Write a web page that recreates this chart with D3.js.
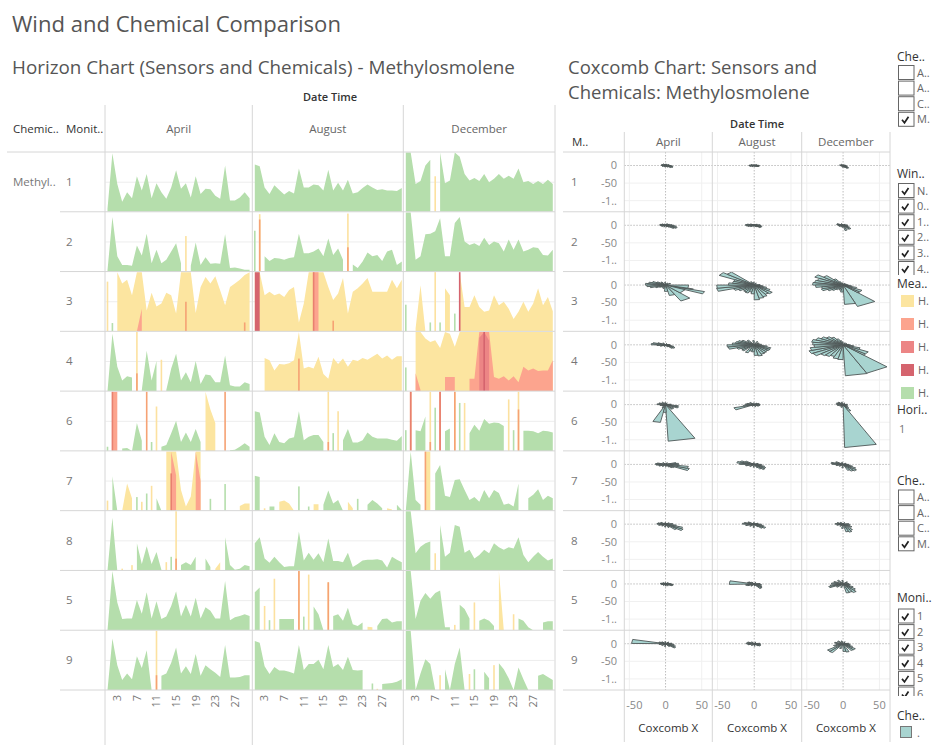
<!DOCTYPE html>
<html><head><meta charset="utf-8">
<script src="https://cdn.jsdelivr.net/npm/d3@7"></script>
<style>
body{margin:0;background:#fff;}
svg{display:block;font-family:"Open Sans",sans-serif;}
</style></head><body>
<svg id="c" width="940" height="752"></svg>
<script>
// ---------------- DATA ----------------
const months = ["April", "August", "December"];
const daysInMonth = [30, 31, 31];
const monitors = ["1", "2", "3", "4", "6", "7", "8", "5", "9"];
const chemical = "Methyl..";
const dayTicks = [3, 7, 11, 15, 19, 23, 27];
const coxXTicks = [-50, 0, 50];
const coxYTicks = [0, -50, -100];
const coxYTickLabels = ["0", "-50", "-1.."];
const bandLabels = ["H.", "H.", "H.", "H.", "H."];

// horizon layers: per monitor [April, August, December]; dense day arrays or [day, value] pairs
const green1 = [
  [0.05,0.99,0.47,0.17,0.33,0.23,0.6,0.36,0.64,0.23,0.48,0.33,0.22,0.41,0.7,0.39,0.48,0.24,0.6,0.3,0.39,0.38,0.27,0.22,0.78,0.19,0.19,0.24,0.33,0.23],
  [0.80,0.77,0.41,0.30,0.45,0.37,0.29,0.35,0.31,0.73,0.41,0.41,0.46,0.45,0.36,0.71,0.36,0.49,0.36,0.54,0.31,0.33,0.40,0.46,0.41,0.37,0.38,0.36,0.36,0.35,0.40],
  [1.0,1.0,0.47,0.52,0.78,0.88,null,1.0,0.48,0.53,1.0,0.93,0.64,0.53,0.57,0.52,0.64,0.5,0.56,0.64,0.56,0.61,0.56,0.73,0.5,0.52,0.47,0.52,0.47,0.54,0.47]];
const green2 = [
  [0.02,0.92,0.26,0.11,0.11,0.1,0.44,0.27,0.64,0.14,0.37,0.14,0.2,0.34,0.48,0.14,null,0.1,0.49,0.11,0.24,0.13,0.14,0.13,0.63,0.06,0.07,0.05,0.03,0.03],
  [0.69,null,0.26,0.18,0.23,0.22,0.2,0.23,0.24,0.64,0.31,0.31,0.34,0.39,0.26,0.56,0.28,0.39,0.2,null,0.12,0.06,0.17,0.32,0.26,0.28,0.18,0.34,0.37,0.11,0.17],
  [1.0,1.0,0.2,0.26,0.63,0.64,0.68,0.9,0.26,0.26,0.82,0.92,0.51,0.45,0.48,0.43,0.57,0.45,0.51,0.48,0.34,0.54,0.37,0.54,0.34,0.37,0.41,0.4,0.28,0.27,0.37]];
const green3 = [[[2,0.14]], [], [[1,0.45],[6,0.15],[8,0.15],[11,0.3]]];
const green4 = [
  [0.0,0.97,0.41,0.18,0.25,0.23,null,0.02,0.68,0.18,0.51,null,0.02,0.38,0.63,0.18,0.32,0.15,0.51,0.12,0.28,0.27,0.15,0.15,0.6,0.1,0.08,0.08,0.15,0.12],
  [], [[1,0.4]]];
const green6 = [
  [[1,0.07],[4,0.04],[5,0.05],[6,0.0],[7,0.47],[8,0.17],[10,0.15],[12,0.07],[13,0.1],[14,0.3],[15,0.51],[16,0.15],[17,0.31],[18,0.15],[19,0.37],[20,0.15],[26,0.01],[27,0.02],[28,0.07],[29,0.13],[30,0.07]],
  [0.67,0.65,0.24,0.1,0.3,0.15,0.13,0.21,0.23,0.67,0.18,0.24,0.27,0.27,0.15,null,0.3,null,0.18,0.37,0.14,0.14,0.18,0.31,0.24,0.21,0.21,0.21,0.19,0.17,0.25],
  [0.35,null,0.35,0.33,0.58,null,0.73,null,0.33,0.38,null,0.81,null,0.3,0.44,0.34,0.54,0.46,0.48,0.47,0.42,null,0.35,null,0.34,0.34,0.33,0.3,0.34,0.33,0.31]];
const green7 = [
  [[2,0.58],[3,0.0],[7,0.23],[9,0.29],[11,0.21],[12,0.0],[22,0.2],[25,0.45]],
  [0.59,0.57,null,0.07,0.07,null,null,null,null,0.41,null,0.07,null,null,0.1,0.34,0.12,0.18,0.0,null,null,0.2,null,0.1,0.18,0.12,0.04,null,null,0.1,0.01],
  [0.0,1.0,0.18,0.1,null,null,0.63,0.77,0.25,0.23,0.52,0.53,0.35,0.18,0.23,0.15,0.35,0.21,0.35,0.3,0.1,0.12,0.07,0.46,null,0.21,0.27,0.36,0.18,0.25,0.21]];
const green8 = [
  [[1,0.0],[2,0.89],[3,0.0],[7,0.46],[8,0.11],[9,0.41],[10,0.11],[11,0.31],[12,0.01],[14,0.23],[16,0.09],[17,0.14],[18,0.09],[19,0.23],[21,0.2],[22,0.06],[25,0.56],[26,0.09],[27,0.01],[28,0.03],[29,0.09],[30,0.07]],
  [0.46,0.56,0.2,0.13,0.23,0.14,0.06,0.07,0.07,0.66,0.17,0.3,0.18,0.29,0.14,0.54,0.16,0.16,0.14,0.3,0.06,0.11,0.17,0.18,0.18,0.19,0.17,0.05,0.23,0.18,0.14],
  [1.0,1.0,0.29,0.4,0.46,0.49,null,0.77,0.23,0.3,0.77,0.74,0.3,0.35,0.2,0.26,0.35,0.29,0.46,0.39,0.35,0.39,0.37,0.56,0.26,0.14,0.23,0.31,0.23,0.17,0.2]];
const green5 = [
  [0.0,1.0,0.47,0.19,0.2,0.2,0.51,0.28,0.64,0.2,0.49,0.19,0.23,0.41,0.66,0.23,0.43,0.23,0.55,0.2,0.39,0.33,0.2,0.2,0.83,0.17,0.22,0.24,0.27,0.24],
  [0.64,0.72,null,0.17,null,0.19,0.19,0.19,0.19,null,0.23,null,0.4,0.27,0.0,null,0.24,0.27,0.16,0.38,0.1,0.07,0.13,null,null,0.07,0.19,0.2,0.13,0.15,0.15],
  [1.0,1.0,0.19,0.5,0.63,0.53,0.63,0.67,0.05,0.05,null,0.43,0.36,0.2,null,0.16,0.2,0.16,0.07,null,null,null,null,0.2,0.16,0.05,0.0,null,0.13,0.15,0.15]];
const green9 = [
  [0.0,0.87,0.42,0.17,0.28,0.18,0.57,0.37,0.67,0.0,null,0.24,0.28,0.46,0.72,0.28,0.4,0.27,0.61,0.24,0.42,0.35,0.29,0.22,0.76,0.21,0.21,0.22,0.25,0.25],
  [0.83,0.8,0.4,0.27,0.39,0.33,0.33,0.31,0.28,0.76,0.34,0.44,0.44,0.51,0.35,0.76,0.39,0.44,0.34,0.56,0.34,0.33,0.34,null,0.11,null,0.1,0.11,0.12,0.14,0.18],
  [1.0,1.0,0.0,0.28,0.52,0.44,0.0,null,0.35,0.0,0.44,0.72,0.0,null,0.35,null,0.31,0.2,null,0.45,0.35,0.2,0.0,0.38,0.18,0.0,null,0.24,0.27,0.22,0.17]];

const yellow1 = [[], [], [[7,0.6]]];
const yellow2 = [[[17,0.6]], [[2,0.97],[20,0.98]], []];
const yellow3 = [
  [0.84,null,1.0,0.81,0.87,0.61,1.0,1.0,0.35,0.65,0.42,0.47,0.65,0.61,0.3,1.0,1.0,1.0,0.31,0.75,0.92,0.81,0.93,0.69,0.44,0.75,0.81,0.87,0.95,1.0],
  [1.0,1.0,0.61,0.67,0.61,0.64,0.58,0.7,0.75,0.15,0.47,1.0,1.0,1.0,1.0,0.75,0.53,0.64,0.9,0.3,0.67,0.73,0.81,0.9,0.67,0.67,0.67,0.67,0.87,0.73,0.87],
  [null,null,0.05,0.78,0.0,null,1.0,null,0.73,0.61,null,1.0,0.41,0.41,0.61,0.41,0.33,0.35,0.61,0.44,0.5,0.38,0.21,0.33,0.5,0.33,0.47,0.73,0.44,0.58,0.34]];
const yellow4 = [
  [[7,1.0],[12,0.53]],
  [null,null,0.56,0.52,0.35,0.46,0.45,0.47,0.52,1.0,0.38,0.41,0.38,0.58,0.29,0.21,0.56,0.46,0.55,0.41,0.53,0.51,0.56,0.53,0.58,0.63,0.55,0.6,0.53,0.59,0.59],
  [null,null,1.0,1.0,0.89,0.83,0.86,0.73,1.0,0.97,0.75,1.0,1.0,1.0,1.0,1.0,1.0,1.0,1.0,1.0,1.0,1.0,1.0,1.0,1.0,1.0,1.0,1.0,1.0,1.0,1.0]];
const yellow6 = [[[11,0.75],[21,1.0],[22,0.7],[23,0.47]], [[16,1.0],[18,0.67]], [[6,1.0],[11,1.0],[13,0.81],[22,0.87],[24,1.0]]];
const yellow7 = [
  [[1,0.17],[4,0.0],[5,0.46],[6,0.21],[8,0.15],[10,0.42],[13,1.0],[14,1.0],[15,1.0],[16,0.35],[17,0.07],[18,0.24],[19,1.0],[20,1.0],[28,0.08],[29,0.12],[30,0.12]],
  [[3,0.04],[6,0.15],[7,0.17],[8,0.12],[9,0.0],[13,0.11],[14,0.11],[20,0.15],[21,0.04],[28,0.04],[29,0.02]],
  [[5,1.0],[6,1.0]]];
const yellow8 = [[[4,0.03],[6,0.09],[13,0.14],[15,1.0],[23,0.03],[24,0.14]], [], [[7,0.29]]];
const yellow5 = [[], [[3,0.41],[5,0.87],[10,1.0],[12,0.94],[16,0.81],[24,0.06],[25,0.05]], [[11,0.09],[15,0.47],[20,1.0],[21,0.0],[23,0.27]]];
const yellow9 = [[[11,1.0]], [[26,0.02]], [[8,0.25],[14,0.27],[19,0.42]]];

const salmon2 = [[], [[2,0.88],[20,0.41]], []];
const salmon3 = [[[7,0.0],[8,0.38],[17,0.5],[29,0.15]], [[13,1.0],[14,1.0],[17,0.18]], []];
const salmon4 = [[[7,0.3]], [[10,0.55]],
  [null,null,0.3,0.02,null,null,null,null,0.24,0.24,0.24,null,null,0.21,0.21,1.0,1.0,1.0,0.24,0.21,0.25,0.18,0.25,0.15,0.41,0.35,0.38,0.34,0.35,0.35,0.52]];
const salmon6 = [[[2,1.0],[3,1.0],[9,1.0],[25,1.0]], [[16,0.15]], [[2,1.0],[6,0.15],[8,1.0],[11,1.0],[24,0.7]]];
const salmon7 = [[[14,1.0],[15,0.6],[19,1.0],[20,0.5]], [], [[5,1.0]]];
const salmon8 = [[[15,0.2]], [], []];
const salmon5 = [[], [[10,1.0],[16,0.81]], []];
const salmon9 = [[[11,0.25]], [], []];

const red3 = [[], [[13,1.0]], []];
const red4 = [[], [], [[16,0.9],[17,1.0],[18,0.85]]];
const red6 = [[[2,1.0]], [], [[2,1.0],[8,1.0]]];
const red7 = [[[14,0.63]], [], []];

const darkred3 = [[], [[1,1.0],[2,1.0]], [[12,1.0]]];
const darkred4 = [[], [], [[17,1.0]]];

// coxcomb wedges per monitor [April, August, December]: [startDeg, radius] (10 deg wide) or [startDeg, endDeg, radius]
const cox1 = [
  [[-40,9],[-30,11],[-20,10],[-10,8],[0,6],[20,5],[60,4],[90,4],[120,5],[150,6],[170,6],[180,5],[200,5],[240,4],[270,4],[300,5]],
  [[-30,6],[-20,7],[-10,7],[0,6],[30,4],[90,3],[150,5],[170,7],[180,7],[190,6],[220,4],[270,3],[320,4]],
  [[-60,9],[-50,10],[-40,7],[-20,5],[0,4],[60,3],[120,4],[160,5],[180,4],[220,3],[260,5],[280,6]]];
const cox2 = [
  [[-40,14],[-30,17],[-20,15],[-10,12],[0,9],[20,6],[60,5],[100,4],[140,6],[160,8],[170,8],[180,7],[200,6],[240,5],[280,5],[310,7]],
  [[-40,10],[-30,11],[-20,10],[-10,9],[0,8],[30,5],[90,3],[140,6],[160,10],[170,12],[180,11],[190,9],[210,6],[260,4],[300,5]],
  [[-80,15],[-60,13],[-50,14],[-40,10],[-20,7],[0,6],[40,4],[110,5],[150,9],[160,9],[180,7],[200,6],[230,5],[260,6],[290,5]]];
const cox3 = [
  [[-16,0,32],[-19,-16,40],[-26,-19,57],[-48,-26,30],[-65,-48,50],[-80,-65,30],[-95,-80,18],[150,20],[160,24],[170,28],[180,26],[190,22],[200,15],[210,10],[30,8],[60,6],[90,8],[120,10],[140,14],[230,8],[250,10]],
  [[130,48],[140,55],[150,30],[160,30],[170,35],[180,51],[190,52],[200,30],[210,25],[220,20],[230,22],[240,24],[250,20],[260,25],[270,42],[280,38],[290,35],[300,30],[310,32],[320,25],[330,18],[340,12],[0,8],[60,6],[90,8],[110,10]],
  [[130,35],[140,45],[150,38],[160,40],[170,42],[180,38],[190,30],[200,32],[210,25],[220,20],[230,15],[240,12],[250,15],[260,20],[-88,-72,55],[-72,-47,64],[-47,-40,30],[320,30],[330,20],[340,12],[350,8],[0,6],[30,5],[60,5],[90,6],[110,10],[120,20]]];
const cox4 = [
  [[-50,13],[-40,15],[-30,12],[-20,8],[0,6],[60,4],[120,6],[150,12],[160,18],[170,20],[180,12],[200,8],[250,5],[290,6]],
  [[-90,30],[-80,32],[-70,28],[-60,26],[-50,24],[-40,25],[-30,24],[-20,18],[0,10],[30,8],[60,10],[90,12],[120,15],[140,20],[150,24],[160,26],[170,30],[180,37],[190,36],[200,25],[210,20],[220,22],[240,24],[250,18],[260,20]],
  [[100,12],[110,18],[120,25],[130,30],[140,35],[150,40],[160,44],[170,42],[180,40],[190,46],[200,50],[210,48],[220,40],[230,38],[240,35],[250,40],[260,42],[-88,-68,88],[-68,-46,87],[-46,-40,40],[320,40],[330,25],[340,15],[350,10],[0,8],[30,6],[60,6],[90,8]]];
const cox6 = [
  [[-110,-98,51],[-98,-88,22],[-88,-67,104],[-60,15],[-50,15],[-30,19],[-20,18],[0,8],[60,5],[90,6],[120,8],[150,10],[170,12],[190,8],[210,6],[240,10]],
  [[188,198,15],[198,211,29],[0,8],[20,7],[40,5],[90,5],[130,8],[160,10],[170,12],[180,10],[240,5],[280,6],[320,7],[340,8]],
  [[-89,-68,122],[-68,-58,20],[-60,12],[-40,8],[0,6],[60,5],[100,7],[130,9],[150,10],[170,9],[190,8],[220,6],[250,8]]];
const cox7 = [
  [[-30,35],[-20,32],[-40,14],[-50,12],[-10,18],[0,18],[10,15],[60,5],[120,6],[160,12],[170,14],[180,13],[200,10],[230,7],[270,6],[300,8]],
  [[-60,15],[-50,19],[-40,18],[-30,15],[-10,10],[20,6],[90,5],[140,14],[150,20],[160,24],[170,20],[190,12],[220,8],[260,8],[290,10]],
  [[-70,18],[-60,22],[-50,24],[-40,20],[-30,14],[-10,8],[30,5],[100,6],[140,12],[160,17],[170,15],[190,10],[220,7],[260,10]]];
const cox8 = [
  [[-50,20],[-40,28],[-30,25],[-20,15],[0,10],[30,6],[90,5],[140,8],[160,11],[170,12],[190,10],[220,7],[260,8],[290,10]],
  [[-50,15],[-40,18],[-30,14],[-10,10],[20,6],[90,5],[140,10],[160,14],[170,16],[190,12],[220,8],[260,9],[300,8]],
  [[-80,22],[-70,24],[-60,20],[-40,14],[-20,10],[0,8],[60,5],[120,6],[150,9],[170,11],[190,9],[230,7],[260,12]]];
const cox5 = [
  [[-30,10],[-20,11],[-10,9],[0,7],[40,5],[90,4],[130,5],[160,7],[170,7],[190,6],[230,5],[270,6],[300,6]],
  [[165,182,34],[-60,15],[-50,14],[-40,12],[-20,10],[0,8],[60,5],[120,6],[140,9],[150,10],[190,12],[200,10],[230,7],[270,6],[300,8]],
  [[-80,26],[-70,25],[-60,28],[-50,22],[-40,16],[-20,10],[0,8],[40,8],[90,10],[120,12],[150,14],[170,16],[190,18],[200,21],[220,12],[250,10]]];
const cox9 = [
  [[165,179,47],[-45,-35,17],[-35,-25,15],[-20,12],[0,9],[40,6],[90,6],[130,7],[150,10],[185,195,9],[220,7],[260,8],[300,9]],
  [[-40,10],[-20,9],[0,8],[60,5],[120,6],[150,10],[170,11],[190,9],[230,6],[270,7],[310,8]],
  [[-90,22],[-80,24],[-60,22],[-50,22],[-40,15],[-20,10],[0,8],[60,6],[100,8],[130,10],[160,12],[180,10],[200,14],[220,28],[230,29],[250,14]]];

// legend lists
const chemList = ["A..", "A..", "C..", "M."];
const chemChecked = [false, false, false, true];
const windList = ["N.", "0..", "1..", "2..", "3..", "4.."];
const monitorList = ["1", "2", "3", "4", "5", "6"];

// ---------------- STYLE / LAYOUT ----------------
const C = {green:"#b5deac", yellow:"#fce5a0", salmon:"#fca48e", red:"#ec8585", darkred:"#d5646e"};
const spikeC = {green:"#b5deac", yellow:"#fce1a0", salmon:"#f6a274", red:"#e8806f", darkred:"#d5646e"};
const legendColors = [C.yellow, C.salmon, C.red, C.darkred, C.green];
const coxFill = "#a8d4d0";
const lineCol = "#d6d6d6";

const greenAll = [green1, green2, green3, green4, green6, green7, green8, green5, green9];
const yellowAll = [yellow1, yellow2, yellow3, yellow4, yellow6, yellow7, yellow8, yellow5, yellow9];
const salmonAll = [[], salmon2, salmon3, salmon4, salmon6, salmon7, salmon8, salmon5, salmon9];
const redAll = [[], [], red3, red4, red6, red7, [], [], []];
const darkredAll = [[], [], darkred3, darkred4, [], [], [], [], []];
const layers = [["green", greenAll], ["yellow", yellowAll], ["salmon", salmonAll], ["red", redAll], ["darkred", darkredAll]];
const coxAll = [cox1, cox2, cox3, cox4, cox6, cox7, cox8, cox5, cox9];

const hCols = [105, 252.3, 403.3, 555];
const cCols = [624.3, 712.3, 801.7, 890];
const top0 = 152, bottom0 = 690;
const rowH = (bottom0 - top0) / monitors.length;
const rowTop = i => top0 + i * rowH;

const svg = d3.select("#c");
const defs = svg.append("defs");

function toDense(spec, n) {
  const out = new Array(n).fill(null);
  if (!spec || !spec.length) return out;
  if (Array.isArray(spec[0])) spec.forEach(([d, v]) => { out[d - 1] = v; });
  else spec.forEach((v, i) => { if (i < n) out[i] = v; });
  return out;
}
function fitText(sel, target) {
  const fs = parseFloat(sel.attr("font-size"));
  const w = sel.node().getComputedTextLength();
  if (w > 0) sel.attr("font-size", (fs * target / w).toFixed(2));
  return parseFloat(sel.attr("font-size"));
}

// ---------------- TITLES ----------------
fitText(svg.append("text").attr("x", 12).attr("y", 32).attr("font-size", 22).attr("fill", "#555")
  .text("Wind and Chemical Comparison"), 329);
fitText(svg.append("text").attr("x", 12).attr("y", 74).attr("font-size", 18).attr("fill", "#555")
  .text("Horizon Chart (Sensors and Chemicals) - Methylosmolene"), 503);
const cfs = fitText(svg.append("text").attr("x", 568).attr("y", 74).attr("font-size", 18).attr("fill", "#555")
  .text("Coxcomb Chart: Sensors and"), 249);
svg.append("text").attr("x", 568).attr("y", 99).attr("font-size", cfs).attr("fill", "#555")
  .text("Chemicals: Methylosmolene");

// ---------------- HORIZON CHART ----------------
const hz = svg.append("g");
hz.append("text").attr("x", (hCols[0] + hCols[3]) / 2).attr("y", 101).attr("text-anchor", "middle")
  .attr("font-size", 11).attr("font-weight", 600).attr("fill", "#333").text("Date Time");
hz.append("text").attr("x", 13).attr("y", 133).attr("font-size", 11.5).attr("fill", "#333").text("Chemic..");
hz.append("text").attr("x", 66).attr("y", 133).attr("font-size", 11.5).attr("fill", "#333").text("Monit..");
months.forEach((m, j) => {
  hz.append("text").attr("x", (hCols[j] + hCols[j + 1]) / 2).attr("y", 133).attr("text-anchor", "middle")
    .attr("font-size", 11.5).attr("fill", "#666").text(m);
});
hz.append("text").attr("x", 13).attr("y", rowTop(0) + rowH / 2 + 4).attr("font-size", 11.5).attr("fill", "#777").text(chemical);

const hx = months.map((m, j) => d3.scaleLinear().domain([1, 31]).range([hCols[j] + 2.5, hCols[j] + 2.5 + 30 * 4.9]));

monitors.forEach((mon, i) => {
  const t = rowTop(i), b = t + rowH;
  hz.append("text").attr("x", 66).attr("y", t + rowH / 2 + 4).attr("font-size", 11.5).attr("fill", "#777").text(mon);
  const hy = d3.scaleLinear().domain([0, 1]).range([b, t + 0.6]);
  months.forEach((m, j) => {
    const id = `hc${i}_${j}`;
    defs.append("clipPath").attr("id", id).append("rect")
      .attr("x", hCols[j] + 0.5).attr("y", t).attr("width", hCols[j + 1] - hCols[j] - 1).attr("height", rowH);
    const cell = hz.append("g").attr("clip-path", `url(#${id})`);
    cell.append("line").attr("x1", hCols[j]).attr("x2", hCols[j + 1]).attr("y1", hy(0.5)).attr("y2", hy(0.5))
      .attr("stroke", "#ededed");
    const x = hx[j];
    layers.forEach(([name, all]) => {
      const spec = all[i] && all[i][j];
      const vals = toDense(spec, daysInMonth[j]);
      const pts = vals.map((v, k) => ({d: k + 1, v}));
      const area = d3.area().defined(p => p.v != null).x(p => x(p.d)).y0(b).y1(p => hy(p.v));
      cell.append("path").attr("d", area(pts)).attr("fill", C[name]);
      pts.forEach((p, k) => {
        if (p.v == null) return;
        const prev = k > 0 ? pts[k - 1].v : null, next = k < pts.length - 1 ? pts[k + 1].v : null;
        if (prev == null && next == null) {
          cell.append("rect").attr("x", x(p.d) - 0.8).attr("width", 1.6)
            .attr("y", hy(p.v)).attr("height", b - hy(p.v)).attr("fill", spikeC[name]);
        }
      });
    });
  });
});
// grid lines
hz.append("line").attr("x1", 7).attr("x2", hCols[3]).attr("y1", top0).attr("y2", top0).attr("stroke", lineCol);
for (let i = 1; i <= monitors.length; i++) {
  hz.append("line").attr("x1", 60).attr("x2", hCols[3]).attr("y1", rowTop(i)).attr("y2", rowTop(i)).attr("stroke", lineCol);
}
hCols.forEach(cx => {
  hz.append("line").attr("x1", cx).attr("x2", cx).attr("y1", 105).attr("y2", 745).attr("stroke", lineCol);
});
// x tick labels
months.forEach((m, j) => {
  dayTicks.forEach(d => {
    hz.append("text").attr("transform", `translate(${hx[j](d)},695) rotate(-90)`)
      .attr("text-anchor", "end").attr("dy", "0.35em").attr("font-size", 11).attr("fill", "#777").text(d);
  });
});

// ---------------- COXCOMB CHART ----------------
const cz = svg.append("g");
cz.append("text").attr("x", (cCols[0] + cCols[3]) / 2).attr("y", 128).attr("text-anchor", "middle")
  .attr("font-size", 11).attr("font-weight", 600).attr("fill", "#333").text("Date Time");
cz.append("text").attr("x", 572).attr("y", 146).attr("font-size", 11.5).attr("fill", "#333").text("M..");
months.forEach((m, j) => {
  cz.append("text").attr("x", (cCols[j] + cCols[j + 1]) / 2).attr("y", 146).attr("text-anchor", "middle")
    .attr("font-size", 11.5).attr("fill", "#666").text(m);
});
const cx = months.map((m, j) => d3.scaleLinear().domain([-57, 64.6]).range([cCols[j], cCols[j + 1]]));
monitors.forEach((mon, i) => {
  const t = rowTop(i);
  const cy = d3.scaleLinear().domain([38.4, -131.6]).range([t, t + rowH]);
  cz.append("text").attr("x", 571).attr("y", t + rowH / 2 + 4).attr("font-size", 11.5).attr("fill", "#777").text(mon);
  coxYTicks.forEach((v, k) => {
    cz.append("text").attr("x", 617).attr("y", cy(v)).attr("dy", "0.35em").attr("text-anchor", "end")
      .attr("font-size", 11).attr("fill", "#888").text(coxYTickLabels[k]);
  });
  months.forEach((m, j) => {
    const x = cx[j];
    const g = cz.append("g");
    [-50, 50].forEach(v => g.append("line").attr("x1", x(v)).attr("x2", x(v)).attr("y1", t).attr("y2", t + rowH).attr("stroke", "#f0f0f0"));
    [-50, -100].forEach(v => g.append("line").attr("x1", cCols[j]).attr("x2", cCols[j + 1]).attr("y1", cy(v)).attr("y2", cy(v)).attr("stroke", "#f0f0f0"));
  });
});
// zero dotted lines
months.forEach((m, j) => {
  cz.append("line").attr("x1", cx[j](0)).attr("x2", cx[j](0)).attr("y1", top0).attr("y2", bottom0)
    .attr("stroke", "#bdbdbd").attr("stroke-dasharray", "1.5,1.5");
});
monitors.forEach((mon, i) => {
  const t = rowTop(i);
  const cy = d3.scaleLinear().domain([38.4, -131.6]).range([t, t + rowH]);
  cz.append("line").attr("x1", cCols[0]).attr("x2", cCols[3]).attr("y1", cy(0)).attr("y2", cy(0))
    .attr("stroke", "#bdbdbd").attr("stroke-dasharray", "1.5,1.5");
});
// wedges
monitors.forEach((mon, i) => {
  const t = rowTop(i);
  const cy = d3.scaleLinear().domain([38.4, -131.6]).range([t, t + rowH]);
  months.forEach((m, j) => {
    const x = cx[j];
    const id = `cc${i}_${j}`;
    defs.append("clipPath").attr("id", id).append("rect")
      .attr("x", cCols[j]).attr("y", t).attr("width", cCols[j + 1] - cCols[j]).attr("height", rowH);
    const g = cz.append("g").attr("clip-path", `url(#${id})`);
    const wedges = coxAll[i][j].map(w => w.length === 2 ? {a0: w[0], a1: w[0] + 10, r: w[1]} : {a0: w[0], a1: w[1], r: w[2]})
      .sort((a, b) => b.r - a.r);
    const line = d3.line();
    wedges.forEach(w => {
      const r0 = w.a0 * Math.PI / 180, r1 = w.a1 * Math.PI / 180;
      const p = [[x(0), cy(0)], [x(w.r * Math.cos(r0)), cy(w.r * Math.sin(r0))], [x(w.r * Math.cos(r1)), cy(w.r * Math.sin(r1))]];
      g.append("path").attr("d", line(p) + "Z").attr("fill", coxFill).attr("stroke", "#4f5757")
        .attr("stroke-width", 0.9).attr("stroke-linejoin", "round");
    });
  });
});
// grid/borders
cz.append("line").attr("x1", 563).attr("x2", cCols[3]).attr("y1", top0).attr("y2", top0).attr("stroke", lineCol);
for (let i = 1; i <= monitors.length; i++) {
  cz.append("line").attr("x1", 563).attr("x2", cCols[3]).attr("y1", rowTop(i)).attr("y2", rowTop(i)).attr("stroke", lineCol);
}
cCols.forEach(c => {
  cz.append("line").attr("x1", c).attr("x2", c).attr("y1", 132).attr("y2", 742).attr("stroke", lineCol);
});
// x axis
months.forEach((m, j) => {
  const x = cx[j];
  coxXTicks.forEach(v => {
    const tx = cz.append("text").attr("x", x(v)).attr("y", 709).attr("text-anchor", "middle")
      .attr("font-size", 11).attr("fill", "#888").text(v);
    const w = tx.node().getComputedTextLength();
    if (x(v) - w / 2 < cCols[j] + 2) tx.attr("text-anchor", "start").attr("x", cCols[j] + 2);
  });
  cz.append("text").attr("x", (cCols[j] + cCols[j + 1]) / 2).attr("y", 732).attr("text-anchor", "middle")
    .attr("font-size", 11.5).attr("fill", "#333").text("Coxcomb X");
});

// ---------------- LEGENDS ----------------
const lg = svg.append("g");
const bx = 898.5, bw = 15.5, bh = 14, step = 15.6;
function checkList(title, titleY, top, labels, checked, clipBottom, cid) {
  lg.append("text").attr("x", 897).attr("y", titleY + 4).attr("font-size", 12).attr("fill", "#333").text(title);
  defs.append("clipPath").attr("id", cid).append("rect").attr("x", 890).attr("y", top - 2).attr("width", 50).attr("height", clipBottom - top + 2);
  const g = lg.append("g").attr("clip-path", `url(#${cid})`);
  labels.forEach((l, k) => {
    const y = top + k * step;
    g.append("rect").attr("x", bx).attr("y", y).attr("width", bw).attr("height", bh)
      .attr("fill", "#fff").attr("stroke", "#666").attr("stroke-width", 1);
    if (checked[k]) {
      g.append("path").attr("d", `M${bx + 3.5},${y + 7.5} L${bx + 6},${y + 10.5} L${bx + 10},${y + 4.5}`)
        .attr("fill", "none").attr("stroke", "#222").attr("stroke-width", 1.7);
    }
    g.append("text").attr("x", 917).attr("y", y + bh / 2 + 4).attr("font-size", 11).attr("fill", "#666").text(l);
  });
}
checkList("Che..", 57, 65.5, chemList, chemChecked, 130, "lc1");
checkList("Win..", 174, 183.5, windList, windList.map(() => true), 275, "lc2");
lg.append("text").attr("x", 897).attr("y", 288).attr("font-size", 12).attr("fill", "#333").text("Mea..");
bandLabels.forEach((l, k) => {
  const y = 295 + k * 23;
  lg.append("rect").attr("x", 901).attr("y", y).attr("width", 13).attr("height", 12).attr("fill", legendColors[k]);
  lg.append("text").attr("x", 918).attr("y", y + 10).attr("font-size", 11).attr("fill", "#666").text(l);
});
lg.append("text").attr("x", 897).attr("y", 414).attr("font-size", 12).attr("fill", "#333").text("Hori..");
lg.append("text").attr("x", 899).attr("y", 433).attr("font-size", 11).attr("fill", "#777").text("1");
checkList("Che..", 480.5, 490, chemList, chemChecked, 555, "lc3");
checkList("Moni..", 597.5, 609, monitorList, monitorList.map(() => true), 696, "lc4");
lg.append("text").attr("x", 897).attr("y", 720).attr("font-size", 12).attr("fill", "#333").text("Che..");
lg.append("rect").attr("x", 900.5).attr("y", 726.5).attr("width", 11).attr("height", 11).attr("fill", coxFill).attr("stroke", "#777");
lg.append("text").attr("x", 917).attr("y", 737).attr("font-size", 11).attr("fill", "#666").text(".");
</script></body></html>
